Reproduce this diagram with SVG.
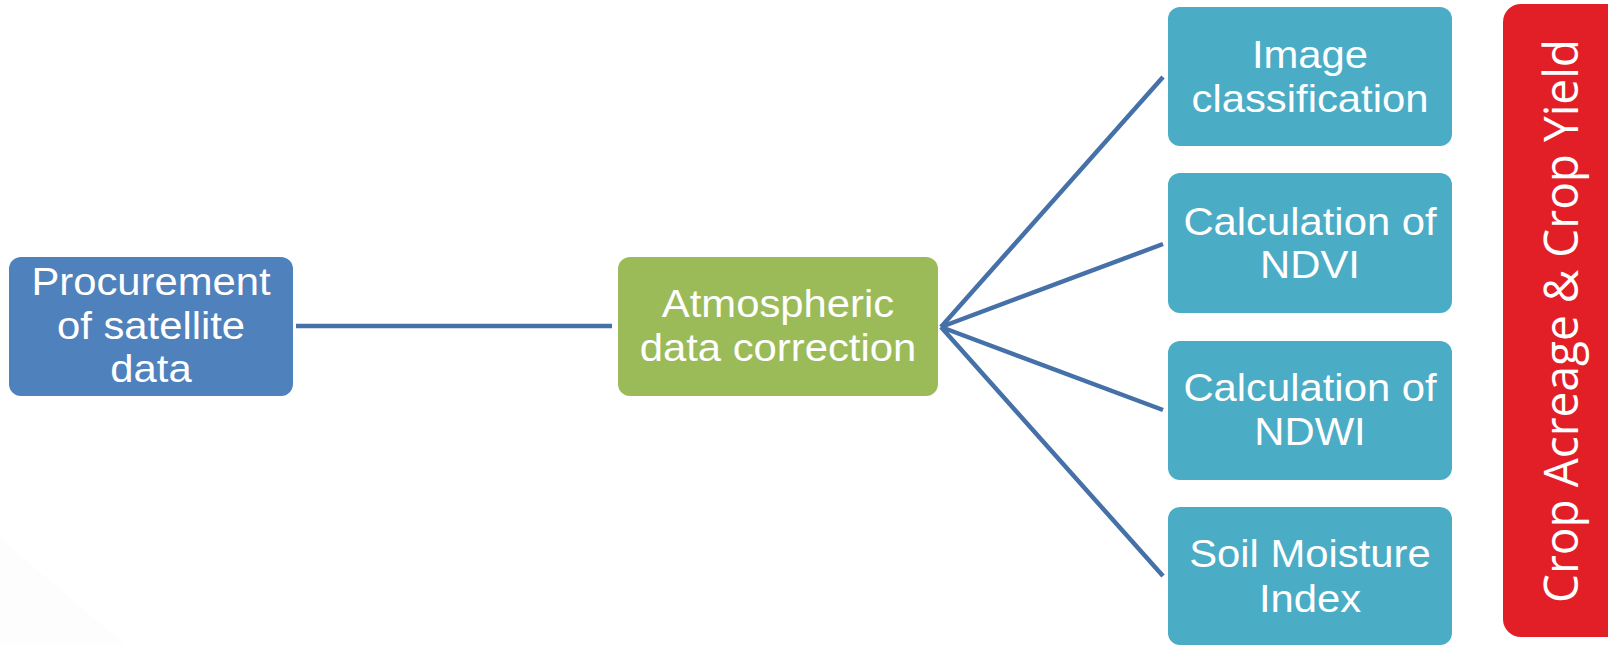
<svg xmlns="http://www.w3.org/2000/svg" width="1608" height="645" viewBox="0 0 1608 645">
  <style>
    .box { stroke: none; }
    .lbl { font-family: "Liberation Sans", Arial, sans-serif; font-size: 38px; fill: #FFFFFF; text-anchor: middle; }
    .side { font-family: "Open Sans", "Liberation Sans", sans-serif; font-size: 47px; fill: #FFFFFF; text-anchor: middle; }
    .link { stroke: #4670A8; stroke-width: 4.5; fill: none; }
  </style>

  <rect x="0" y="0" width="1608" height="645" fill="#FFFFFF"/>
  <!-- faint backdrop sweep, lower left -->
  <path d="M0,538 Q60,590 125,645 L0,645 Z" fill="#FDFDFD"/>

  <g id="connectors">
    <line class="link" x1="296" y1="326" x2="612" y2="326"/>
    <line class="link" x1="941" y1="327" x2="1163" y2="77"/>
    <line class="link" x1="941" y1="327" x2="1163" y2="244"/>
    <line class="link" x1="941" y1="327" x2="1163" y2="410"/>
    <line class="link" x1="941" y1="327" x2="1163" y2="576"/>
  </g>

  <g id="procurement">
    <rect class="box" x="9" y="257" width="284" height="139" rx="12" fill="#4F81BD"/>
    <g transform="translate(151 0) scale(1.1 1)">
      <text class="lbl" x="0" y="295">Procurement</text>
      <text class="lbl" x="0" y="339">of satellite</text>
      <text class="lbl" x="0" y="382">data</text>
    </g>
  </g>

  <g id="atmospheric">
    <rect class="box" x="618" y="257" width="320" height="139" rx="12" fill="#9BBB59"/>
    <g transform="translate(778 0) scale(1.1 1)">
      <text class="lbl" x="0" y="317">Atmospheric</text>
      <text class="lbl" x="0" y="361">data correction</text>
    </g>
  </g>

  <g id="classification">
    <rect class="box" x="1168" y="7" width="284" height="139" rx="12" fill="#4BACC6"/>
    <g transform="translate(1310 0) scale(1.1 1)">
      <text class="lbl" x="0" y="68">Image</text>
      <text class="lbl" x="0" y="112">classification</text>
    </g>
  </g>

  <g id="ndvi">
    <rect class="box" x="1168" y="173" width="284" height="140" rx="12" fill="#4BACC6"/>
    <g transform="translate(1310 0) scale(1.1 1)">
      <text class="lbl" x="0" y="235">Calculation of</text>
      <text class="lbl" x="0" y="278">NDVI</text>
    </g>
  </g>

  <g id="ndwi">
    <rect class="box" x="1168" y="341" width="284" height="139" rx="12" fill="#4BACC6"/>
    <g transform="translate(1310 0) scale(1.1 1)">
      <text class="lbl" x="0" y="401">Calculation of</text>
      <text class="lbl" x="0" y="445">NDWI</text>
    </g>
  </g>

  <g id="soil-moisture">
    <rect class="box" x="1168" y="507" width="284" height="138" rx="12" fill="#4BACC6"/>
    <g transform="translate(1310 0) scale(1.1 1)">
      <text class="lbl" x="0" y="567">Soil Moisture</text>
      <text class="lbl" x="0" y="612">Index</text>
    </g>
  </g>

  <g id="outcome">
    <rect class="box" x="1503" y="4" width="125" height="633" rx="18" fill="#E21F26"/>
    <text class="side" transform="translate(1578 321) rotate(-90)" x="0" y="0" textLength="564" lengthAdjust="spacingAndGlyphs">Crop Acreage &amp; Crop Yield</text>
  </g>
</svg>
